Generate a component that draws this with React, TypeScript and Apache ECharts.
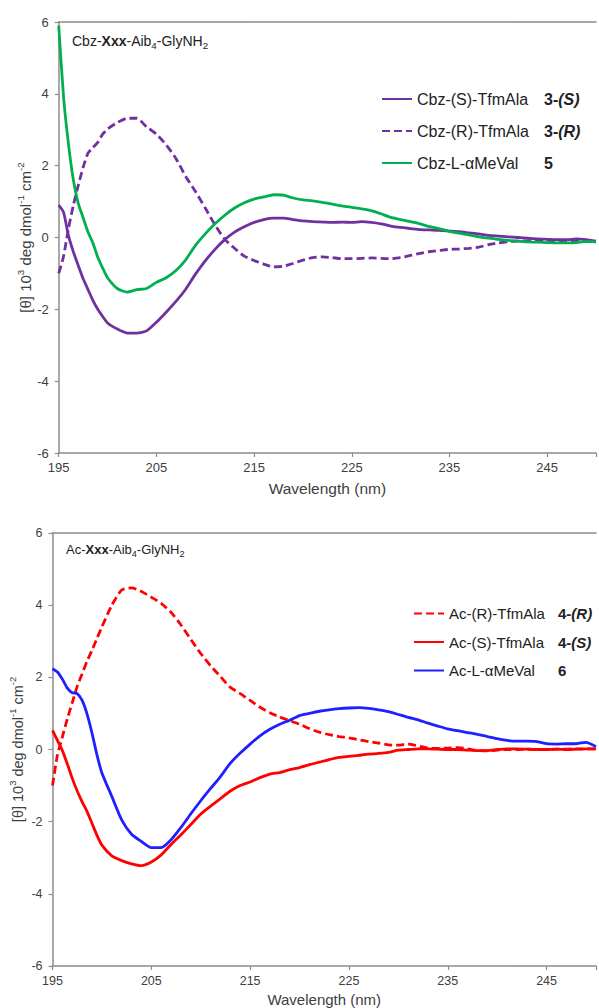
import React, { useEffect, useRef } from "react";
import * as echarts from "echarts";

// Wavelength grid (nm)
const wavelengths = [
  195, 195.5, 196, 196.5, 197, 197.5, 198, 198.5, 199, 199.5, 200,
  201, 202, 203, 204, 205, 206, 207, 208, 209, 210,
  211, 212, 213, 214, 215, 216, 217, 218, 219, 220,
  221, 222, 223, 224, 225, 226, 227, 228, 229, 230,
  231, 232, 233, 234, 235, 236, 237, 238, 239, 240,
  241, 242, 243, 244, 245, 246, 247, 248, 249, 250,
];

// Top panel: Cbz-Xxx-Aib4-GlyNH2
const cbzS = [
  0.9, 0.7, 0.05, -0.4, -0.78, -1.15, -1.45, -1.75, -2.0, -2.2, -2.38,
  -2.55, -2.66, -2.66, -2.6, -2.36, -2.08, -1.78, -1.44, -1.02, -0.65,
  -0.33, -0.06, 0.15, 0.3, 0.42, 0.5, 0.54, 0.54, 0.5, 0.46,
  0.44, 0.43, 0.42, 0.43, 0.42, 0.44, 0.42, 0.38, 0.32, 0.28,
  0.25, 0.22, 0.21, 0.2, 0.18, 0.16, 0.13, 0.1, 0.06, 0.04,
  0.02, 0.0, -0.02, -0.04, -0.05, -0.06, -0.06, -0.04, -0.06, -0.1,
];
const cbzR = [
  -1.0, -0.52, 0.25, 0.9, 1.45, 1.95, 2.35, 2.5, 2.65, 2.88, 3.02,
  3.2, 3.32, 3.32, 3.08, 2.88, 2.58, 2.2, 1.7, 1.28, 0.82,
  0.35, -0.05, -0.3, -0.52, -0.64, -0.74, -0.82, -0.8, -0.72, -0.63,
  -0.56, -0.54, -0.56, -0.59, -0.59, -0.58, -0.57, -0.58, -0.59, -0.56,
  -0.5, -0.44, -0.39, -0.36, -0.33, -0.32, -0.3, -0.27, -0.2, -0.15,
  -0.12, -0.1, -0.09, -0.08, -0.08, -0.09, -0.1, -0.1, -0.11, -0.12,
];
const cbzMeVal = [
  5.9, 3.9, 2.6, 1.6, 0.95, 0.55, 0.15, -0.15, -0.55, -0.85, -1.12,
  -1.42, -1.52, -1.45, -1.42, -1.25, -1.12, -0.92, -0.62, -0.22, 0.1,
  0.38, 0.62, 0.82, 0.97, 1.07, 1.13, 1.19, 1.18, 1.1, 1.05,
  1.02, 0.98, 0.93, 0.88, 0.84, 0.8, 0.75, 0.66, 0.56, 0.5,
  0.44, 0.38, 0.3, 0.24, 0.17, 0.12, 0.07, 0.02, -0.02, -0.05,
  -0.08, -0.1, -0.12, -0.13, -0.14, -0.15, -0.15, -0.14, -0.11, -0.12,
];

// Bottom panel: Ac-Xxx-Aib4-GlyNH2
const acR = [
  -1.0, -0.15, 0.35, 0.85, 1.3, 1.75, 2.1, 2.45, 2.75, 3.08, 3.4,
  4.0, 4.42, 4.48, 4.38, 4.22, 4.05, 3.8, 3.45, 3.05, 2.66,
  2.32, 2.02, 1.72, 1.55, 1.36, 1.17, 1.02, 0.9, 0.8, 0.7,
  0.58, 0.48, 0.41, 0.36, 0.32, 0.27, 0.22, 0.18, 0.13, 0.12,
  0.15, 0.1, 0.04, 0.03, 0.04, 0.05, 0.02, -0.03, -0.04, -0.02,
  0.0, 0.0, 0.01, 0.0, 0.0, 0.01, 0.01, 0.02, 0.02, 0.02,
];
const acS = [
  0.53, 0.25, -0.03, -0.4, -0.8, -1.15, -1.45, -1.72, -2.05, -2.38, -2.65,
  -2.95, -3.08, -3.17, -3.22, -3.12, -2.92, -2.63, -2.36, -2.08, -1.79,
  -1.57, -1.36, -1.15, -1.0, -0.9, -0.78, -0.68, -0.64, -0.56, -0.5,
  -0.42, -0.35, -0.28, -0.22, -0.19, -0.16, -0.13, -0.11, -0.08, -0.02,
  0.0, 0.02, 0.02, 0.01, 0.0, 0.0, -0.02, -0.03, -0.03, 0.0,
  0.02, 0.02, 0.01, 0.0, 0.0, 0.01, 0.0, 0.01, 0.02, 0.02,
];
const acMeVal = [
  2.24, 2.15, 1.95, 1.7, 1.57, 1.55, 1.36, 0.98, 0.45, -0.15, -0.65,
  -1.3, -1.95, -2.35, -2.55, -2.72, -2.72, -2.5, -2.16, -1.78, -1.42,
  -1.08, -0.75, -0.38, -0.1, 0.15, 0.38, 0.56, 0.7, 0.81, 0.94,
  1.0, 1.06, 1.1, 1.13, 1.15, 1.16, 1.14, 1.1, 1.05, 0.97,
  0.89, 0.82, 0.73, 0.65, 0.57, 0.52, 0.47, 0.42, 0.36, 0.3,
  0.25, 0.23, 0.23, 0.22, 0.16, 0.15, 0.16, 0.16, 0.2, 0.08,
];

const xTickLabels = [195, 205, 215, 225, 235, 245];

const topNames = ["Cbz-(S)-TfmAla", "Cbz-(R)-TfmAla", "Cbz-L-αMeVal"];
const topNumbers = [["3-", "(S)"], ["3-", "(R)"], ["5", ""]];
const bottomNames = ["Ac-(R)-TfmAla", "Ac-(S)-TfmAla", "Ac-L-αMeVal"];
const bottomNumbers = [["4-", "(R)"], ["4-", "(S)"], ["6", ""]];

const FONT = "'Liberation Sans', Arial, Helvetica, sans-serif";
const AXIS = "#8c8c8c";
const LABEL = "#404040";
const TEXT = "#222222";

const PURPLE = "#7030A0";
const GREEN = "#00B050";
const RED = "#FF0000";
const BLUE = "#1F1FFF";

const pairs = (vals: number[]) => wavelengths.map((w, i) => [w, vals[i]]);

function xMain(gridIndex: number, fs: number, nameFs: number, gap: number) {
  return {
    type: "value",
    gridIndex,
    min: 195,
    max: 250,
    interval: 10,
    position: "bottom",
    name: "Wavelength (nm)",
    nameLocation: "middle",
    nameGap: gap,
    nameMoveOverlap: false,
    nameTextStyle: { fontSize: nameFs, color: LABEL, fontFamily: FONT },
    axisLine: { show: true, onZero: false, lineStyle: { color: AXIS, width: 1.5 } },
    axisTick: { show: true, length: 4, lineStyle: { color: AXIS, width: 1.2 } },
    axisLabel: {
      fontSize: fs,
      color: LABEL,
      fontFamily: FONT,
      margin: 8,
      formatter: (v: number) => (xTickLabels.includes(v) ? String(v) : ""),
    },
    splitLine: { show: false },
  };
}

function xFrame(gridIndex: number) {
  return {
    type: "value",
    gridIndex,
    min: 195,
    max: 250,
    position: "top",
    axisLine: { show: true, onZero: false, lineStyle: { color: AXIS, width: 1.5 } },
    axisTick: { show: false },
    axisLabel: { show: false },
    splitLine: { show: false },
  };
}

function yMain(gridIndex: number, fs: number, nameFs: number, gap: number) {
  return {
    type: "value",
    gridIndex,
    min: -6,
    max: 6,
    interval: 2,
    name: "{n|[θ] 10}{s|3}{n| deg dmol}{s|-1}{n| cm}{s|-2}",
    nameLocation: "middle",
    nameRotate: 90,
    nameGap: gap,
    nameMoveOverlap: false,
    nameTextStyle: {
      fontFamily: FONT,
      color: LABEL,
      rich: {
        n: { fontSize: nameFs, lineHeight: 19, color: LABEL, fontFamily: FONT },
        s: { fontSize: nameFs * 0.65, verticalAlign: "top", color: LABEL, fontFamily: FONT },
      },
    },
    axisLine: { show: true, onZero: false, lineStyle: { color: AXIS, width: 1.5 } },
    axisTick: { show: true, length: 4, lineStyle: { color: AXIS, width: 1.2 } },
    axisLabel: { fontSize: fs, color: LABEL, fontFamily: FONT, margin: 10 },
    splitLine: { show: false },
  };
}

function legendFor(
  names: string[],
  numbers: string[][],
  left: number,
  top: number,
  fs: number,
  nameWidth: number,
  lh: number,
  gap: number
) {
  return {
    orient: "vertical",
    left,
    top,
    itemWidth: 30,
    itemHeight: 12,
    itemGap: gap,
    data: names,
    selectedMode: false,
    itemStyle: { opacity: 0, color: "rgba(0,0,0,0)", borderWidth: 0 },
    formatter: (name: string) => {
      const i = names.indexOf(name);
      const [a, b] = numbers[i];
      return `{n|${name}}{b|${a}}` + (b ? `{bi|${b}}` : "");
    },
    textStyle: {
      fontFamily: FONT,
      color: TEXT,
      rich: {
        n: { fontSize: fs, width: nameWidth, lineHeight: lh, color: TEXT, fontFamily: FONT },
        b: { fontSize: fs, fontWeight: "bold", lineHeight: lh, color: TEXT, fontFamily: FONT },
        bi: {
          fontSize: fs,
          fontWeight: "bold",
          fontStyle: "italic",
          lineHeight: lh,
          color: TEXT,
          fontFamily: FONT,
        },
      },
    },
  };
}

function subtitle(prefix: string, left: number, top: number, fs: number) {
  const tok = (extra: any) => ({ fontSize: fs, fontFamily: FONT, fill: TEXT, lineHeight: 18, ...extra });
  return {
    type: "text",
    left,
    top,
    style: {
      text: `{n|${prefix}-}{b|Xxx}{n|-Aib}{s|4}{n|-GlyNH}{s|2}`,
      fill: TEXT,
      fontFamily: FONT,
      fontSize: fs,
      rich: {
        n: tok({}),
        b: tok({ fontWeight: "bold" }),
        s: { fontSize: fs * 0.7, fontFamily: FONT, fill: TEXT, verticalAlign: "bottom" },
      },
    },
  };
}

function lineSeries(
  name: string,
  data: number[],
  color: string,
  axisIdx: number,
  yIdx: number,
  dashed: boolean
) {
  return {
    type: "line",
    name,
    xAxisIndex: axisIdx,
    yAxisIndex: yIdx,
    data: pairs(data),
    symbol: "none",
    smooth: 0.2,
    lineStyle: { color, width: 2.8, type: dashed ? [8, 4] : "solid" },
    itemStyle: { color },
  };
}

export default function App() {
  const ref = useRef<HTMLDivElement>(null);

  useEffect(() => {
    if (!ref.current) return;
    const chart = echarts.init(ref.current, undefined, { renderer: "svg" });
    const option: any = {
      animation: false,
      backgroundColor: "#ffffff",
      textStyle: { fontFamily: FONT },
      grid: [
        { left: 58.7, top: 22, width: 540.3, height: 431 },
        { left: 50, top: 533, width: 549, height: 433 },
      ],
      xAxis: [xMain(0, 13, 15.5, 27), xFrame(0), xMain(1, 12.5, 15, 26), xFrame(1)],
      yAxis: [yMain(0, 13, 15, 24), yMain(1, 12.5, 14.5, 25.5)],
      legend: [
        legendFor(topNames, topNumbers, 376, 86, 16, 127, 18, 16),
        legendFor(bottomNames, bottomNumbers, 408, 601, 15, 109, 17, 13.5),
      ],
      graphic: [subtitle("Cbz", 72, 34, 14), subtitle("Ac", 66, 543, 13)],
      series: [
        lineSeries(topNames[0], cbzS, PURPLE, 0, 0, false),
        lineSeries(topNames[1], cbzR, PURPLE, 0, 0, true),
        lineSeries(topNames[2], cbzMeVal, GREEN, 0, 0, false),
        lineSeries(bottomNames[0], acR, RED, 2, 1, true),
        lineSeries(bottomNames[1], acS, RED, 2, 1, false),
        lineSeries(bottomNames[2], acMeVal, BLUE, 2, 1, false),
      ],
    };
    chart.setOption(option);
    return () => chart.dispose();
  }, []);

  return (
    <div
      ref={ref}
      style={{ position: "absolute", left: 0, top: 0, width: 599, height: 1008, background: "#fff" }}
    />
  );
}
